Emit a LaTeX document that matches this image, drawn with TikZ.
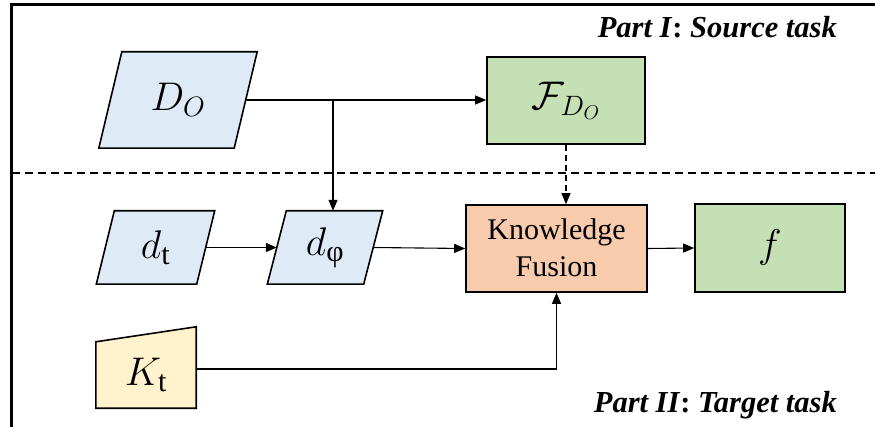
\RequirePackage{fix-cm}
\documentclass[tikz,border=0pt]{standalone}
\usepackage{fontspec}
\setmainfont{Liberation Serif}
\newfontfamily\serifface{Liberation Serif}
\usetikzlibrary{arrows.meta,calc,backgrounds}
\definecolor{cblue}{HTML}{DEEBF7}
\definecolor{cgreen}{HTML}{C5E0B4}
\definecolor{corange}{HTML}{F8CBAD}
\definecolor{cyellow}{HTML}{FFF2CC}
\newcommand\parashape[3]{%
  \filldraw[fill=#3, draw=black, line width=1.6pt, line join=miter]
    ($(#1.south west)+(-#2,0)$) -- ($(#1.south east)+(-#2,0)$) --
    ($(#1.north east)+(#2,0)$) -- ($(#1.north west)+(#2,0)$) -- cycle;}
\newcommand\up[1]{\hbox{\serifface\fontsize{30}{32}\selectfont #1}}
\begin{document}
\begin{tikzpicture}[x=1pt,y=-1pt,
  box/.style={draw=black, line width=1.6pt, inner sep=0pt},
  txt/.style={inner sep=0pt},
  mathtxt/.style={font=\fontsize{40}{44}\selectfont},
  arr/.style={line width=1.1pt, -{Triangle[length=11pt,width=9pt]}},
  parttxt/.style={anchor=east, inner sep=0pt, font=\serifface\fontsize{30.5}{34}\selectfont\bfseries\itshape}]
\useasboundingbox (0,0) rectangle (875,427);
% frame
\draw[line width=3pt] (11,427) -- (11,5) -- (875,5);
% separator
\draw[line width=1.6pt, dash pattern=on 8pt off 5pt] (12,173) -- (875,173);
% part labels
\node[parttxt] (p1) at (837,27) {Part I\textup{:} Source task};
\node[parttxt] (p2) at (837,405) {Part II\textup{:} Target task};
% parallelogram nodes
\node[txt, mathtxt, minimum width=135pt, minimum height=96pt] (DO) at (178,100) {$D_O$};
\node[txt, mathtxt, minimum width=100pt, minimum height=73pt] (dt) at (155.5,247.5) {$d_{\up{t}}$};
\node[txt, mathtxt, minimum width=96pt, minimum height=73pt] (dphi) at (325,247.5) {$d_{\up{φ}}$};
\node[txt, mathtxt, minimum width=100pt, minimum height=66pt] (Kt) at (146,375) {$K_{\up{t}}$};
\begin{pgfonlayer}{background}
\parashape{DO}{11.5}{cblue}
\parashape{dt}{9}{cblue}
\parashape{dphi}{9.5}{cblue}
\filldraw[fill=cyellow, draw=black, line width=1.6pt, line join=miter]
  (Kt.south west) -- (Kt.south east) -- ($(Kt.north east)+(0,-15)$) -- (Kt.north west) -- cycle;
\end{pgfonlayer}
% rectangles
\node[box, mathtxt, fill=cgreen, minimum width=158pt, minimum height=87pt] (F) at (566,100.5) {$\mathcal{F}_{D_O}$};
\node[box, fill=corange, minimum width=181pt, minimum height=87pt] (KF) at (556.5,248.5) {};
\node[txt, font=\serifface\fontsize{30}{36}\selectfont] (KF1) at (556.5,232) {Knowledge};
\node[txt, font=\serifface\fontsize{30}{36}\selectfont] (KF2) at (556.5,267) {Fusion};
\node[box, mathtxt, fill=cgreen, minimum width=150pt, minimum height=88pt] (f) at (770,248) {$f$};
% connectors
\coordinate (br) at (333,100);
\coordinate (KtOut) at ($(Kt.east)+(0,-6)$);
\draw[arr] (DO.east) -- (DO.east -| F.west);
\draw[arr] (br) -- (br |- dphi.north);
\draw[arr, dash pattern=on 6pt off 4pt] (F.south) -- (F.south |- KF.north);
\draw[arr] (dt.east) -- (dphi.west);
\draw[arr] (dphi.east) -- (KF.west);
\draw[arr] (KF.east) -- (f.west);
\draw[arr] (KtOut) -| (KF.south);
\end{tikzpicture}
\end{document}
